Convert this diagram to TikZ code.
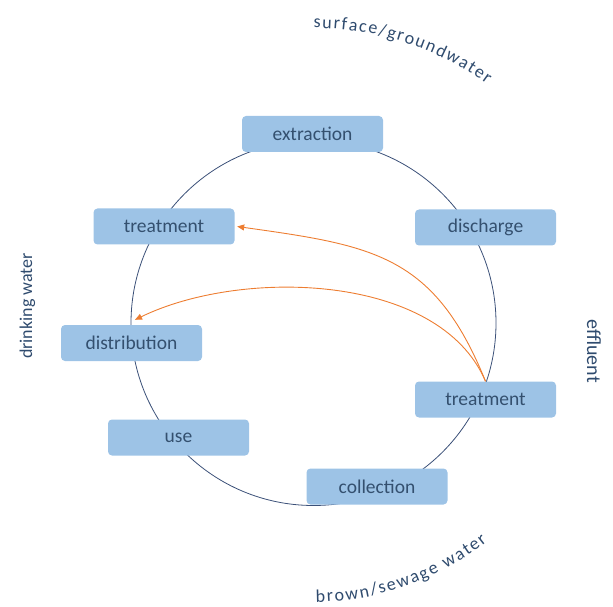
\documentclass[tikz,border=0pt]{standalone}
\usepackage{fontspec}
\setmainfont{Carlito}
\usetikzlibrary{arrows.meta,decorations.text}
\definecolor{boxfill}{HTML}{9DC3E6}
\definecolor{boxtext}{HTML}{34506F}
\definecolor{ringcol}{HTML}{3B5078}
\definecolor{flowcol}{HTML}{ED7D31}
\definecolor{labelcol}{HTML}{2F4B6E}
\newcommand\boxfont{\fontsize{19.5}{20}\selectfont}
\newcommand\outerfont{\fontsize{18}{18}\selectfont}
\begin{document}
\begin{tikzpicture}[x=1pt,y=1pt,
  stage/.style={fill=boxfill, rounded corners=4pt, minimum width=141pt, minimum height=36pt, inner sep=0pt, text=boxtext, font=\boxfont},
  flow/.style={draw=flowcol, line width=0.9pt, -{Triangle[length=7pt,width=6pt]}},
  ring/.style={draw=ringcol, line width=0.8pt},
  outer/.style={text=labelcol, font=\outerfont, inner sep=0pt}]
\useasboundingbox (0,0) rectangle (613,606);
\coordinate (c) at (313.5,283);
\draw[ring] (c) circle[radius=182.5];
\node[stage] (ext) at (312.5,472) {extraction};
\node[stage] (tL) at (164,379.5) {treatment};
\node[stage] (dis) at (485.5,378.5) {discharge};
\node[stage] (dist) at (131.5,263) {distribution};
\node[stage] (tR) at (485.5,206.5) {treatment};
\node[stage] (use) at (178.5,168.5) {use};
\node[stage] (col) at (377,119.5) {collection};
\draw[flow] (tR.north) to[out=112,in=-8,looseness=1.2] ([xshift=2.5]tL.east);
\draw[flow] (tR.north) to[out=113,in=26,looseness=0.85] ([shift={(3.5,5)}]dist.north);
\node[outer, rotate=90, anchor=base] (dw) at (32,300) {drinking water};
\node[outer, rotate=-90, anchor=base, font=\fontsize{20}{20}\selectfont] (ef) at (587,255) {effluent};
\path[decorate, decoration={text along path, text={|\outerfont|surface/groundwater}, text color=labelcol, text align=fit to path}]
  ([shift={(90:295)}]c) arc[start angle=90, end angle=54, radius=295];
\path[decorate, decoration={text along path, text={|\outerfont|brown/sewage water}, text color=labelcol, text align=fit to path}]
  ([shift={(-89.5:279)}]c) arc[start angle=-89.5, end angle=-51.5, radius=279];
\end{tikzpicture}
\end{document}
